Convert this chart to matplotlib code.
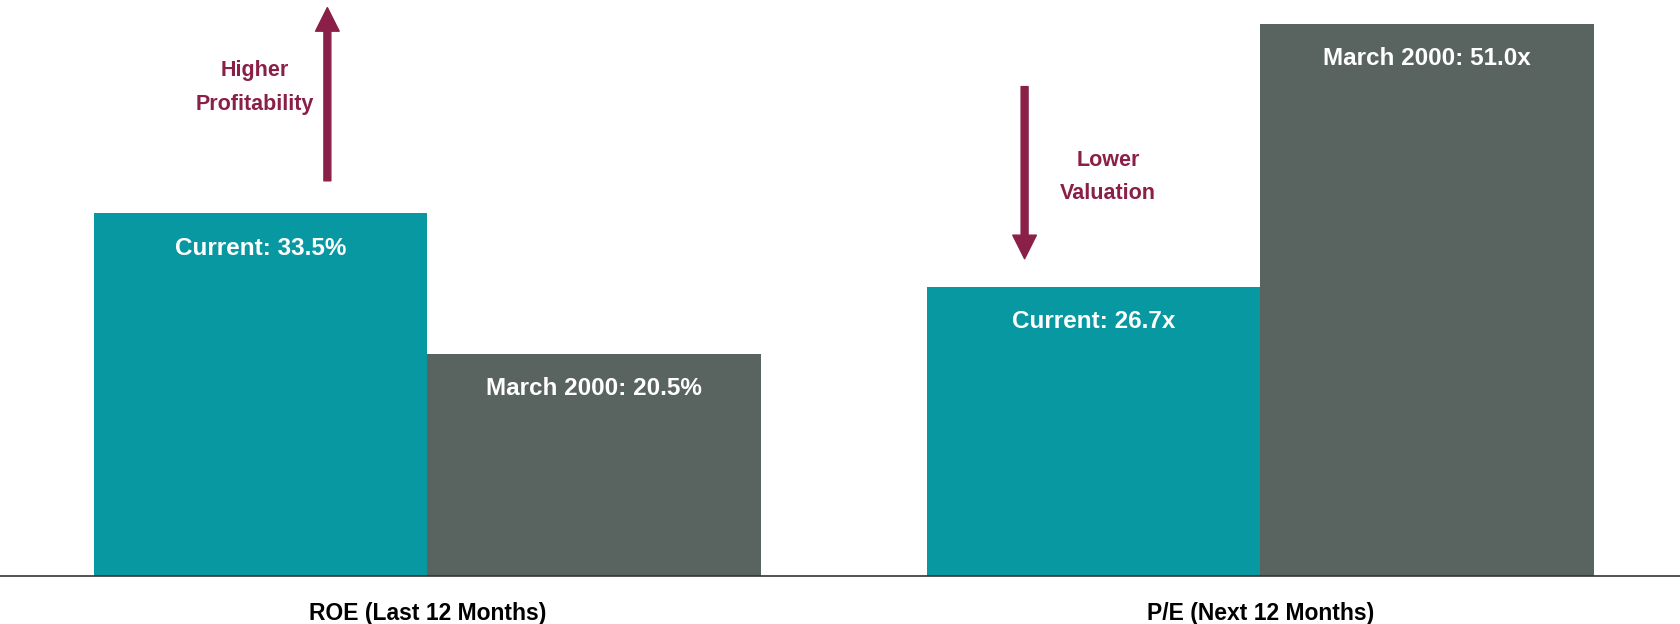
import matplotlib
matplotlib.use("Agg")
import matplotlib.pyplot as plt
import numpy as np

categories = ["ROE (Last 12 Months)", "P/E (Next 12 Months)"]
current = [33.5, 26.7]
march_2000 = [20.5, 51.0]
current_labels = ["Current: 33.5%", "Current: 26.7x"]
march_labels = ["March 2000: 20.5%", "March 2000: 51.0x"]

TEAL = "#0798A2"
GRAY = "#59635F"
MAROON = "#8A1F47"

plt.rcParams["font.family"] = ["Liberation Sans Narrow", "Liberation Sans", "DejaVu Sans"]

fig = plt.figure(figsize=(16.81, 6.24), dpi=100)
ax = fig.add_axes([0, 48 / 624, 1, 576 / 624])

x = np.arange(len(categories))
w = 0.4
b1 = ax.bar(x - w / 2, current, w, color=TEAL, linewidth=0)
b2 = ax.bar(x + w / 2, march_2000, w, color=GRAY, linewidth=0)

for bars, labels in ((b1, current_labels), (b2, march_labels)):
    for bar, lab in zip(bars, labels):
        ax.annotate(lab, (bar.get_x() + bar.get_width() / 2, bar.get_height()),
                    xytext=(0, -25), textcoords="offset points",
                    ha="center", va="center", color="white",
                    fontsize=17.5, fontweight="bold")

ax.set_xlim(-0.513, 1.505)
ax.set_ylim(0, 53.2)

# direction arrows (polygon style, sharp triangular heads)
arrow_kw = dict(width=5, headwidth=17, headlength=17, color=MAROON, shrink=0)
ax.annotate("", xy=(x[0] - 0.12, 52.5), xytext=(x[0] - 0.12, current[0] + 3.0),
            arrowprops=arrow_kw)
ax.text(x[0] - 0.207, 45.1, "Higher\nProfitability", ha="center", va="center",
        color=MAROON, fontsize=15.5, fontweight="bold", linespacing=1.8)
ax.annotate("", xy=(x[1] - 0.283, current[1] + 2.6), xytext=(x[1] - 0.283, 45.2),
            arrowprops=arrow_kw)
ax.text(x[1] - 0.183, 36.85, "Lower\nValuation", ha="center", va="center",
        color=MAROON, fontsize=15.5, fontweight="bold", linespacing=1.8)

ax.set_xticks(x)
ax.set_xticklabels(categories, fontsize=16.5, fontweight="bold")
ax.tick_params(axis="x", length=0, pad=19)
ax.set_yticks([])
for s in ("top", "right", "left"):
    ax.spines[s].set_visible(False)
ax.spines["bottom"].set_color("#333333")
ax.spines["bottom"].set_linewidth(1.2)

fig.savefig("out.png", dpi=100)
